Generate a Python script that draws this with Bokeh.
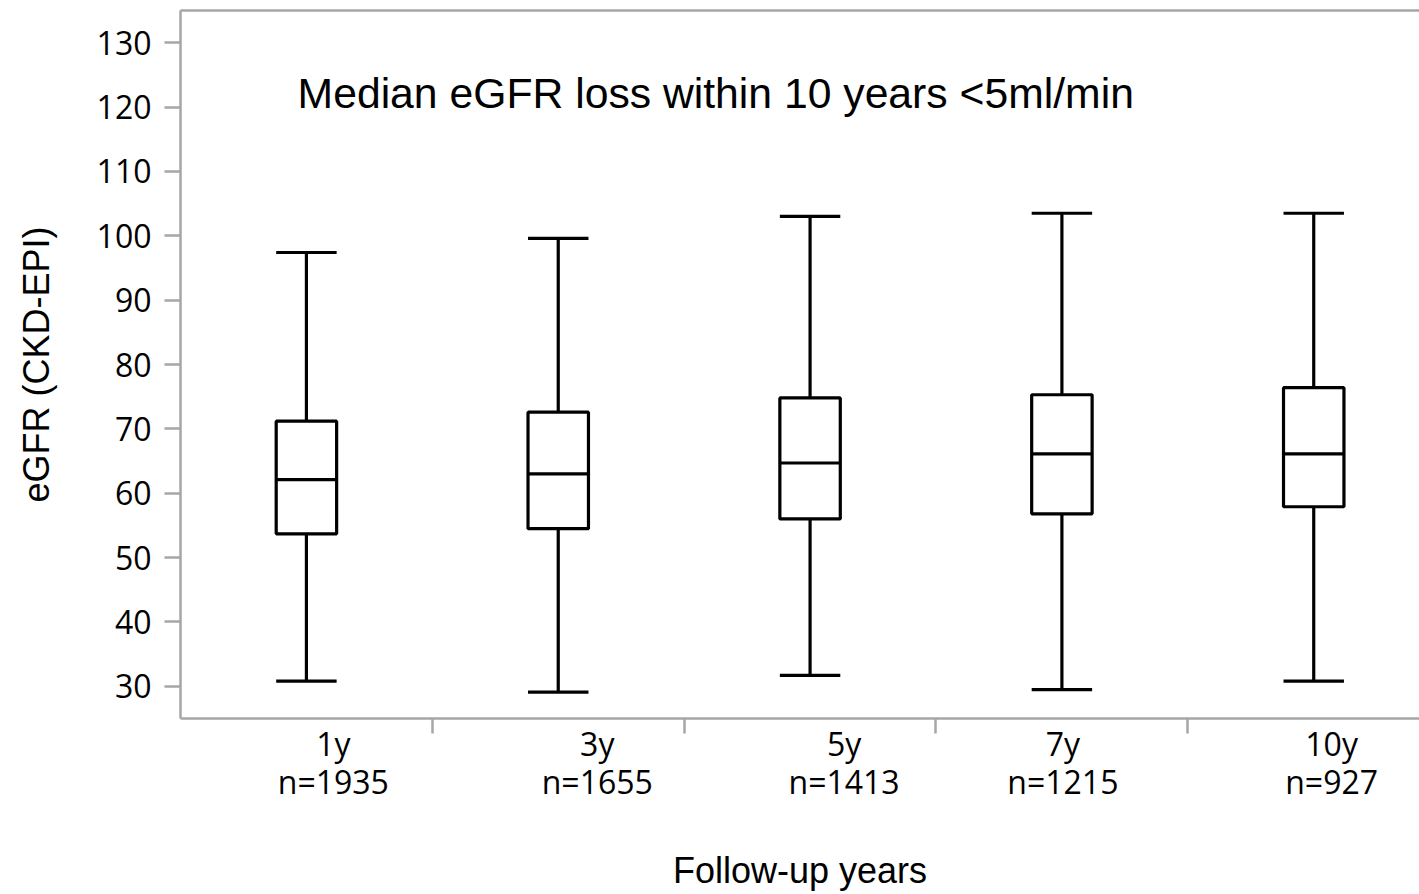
import numpy as np
from bokeh.plotting import figure
from bokeh.models import FixedTicker, LinearAxis, Label, Range1d
from bokeh.embed import file_html
from bokeh.resources import INLINE

# ---- data ----
categories = ["1y", "3y", "5y", "7y", "10y"]
n_counts = [1935, 1655, 1413, 1215, 927]
whisker_low = [30.8, 29.1, 31.7, 29.5, 30.8]
q1 = [53.7, 54.5, 56.0, 56.8, 57.9]
median = [62.1, 63.0, 64.7, 66.1, 66.1]
q3 = [71.2, 72.6, 74.8, 75.3, 76.4]
whisker_high = [97.4, 99.6, 103.0, 103.5, 103.5]
y_ticks = [30, 40, 50, 60, 70, 80, 90, 100, 110, 120, 130]
title_text = "Median eGFR loss within 10 years <5ml/min"

# ---- style ----
label_offsets = [0.107, 0.155, 0.135, 0.004, 0.071]  # tick label shift (category units)
box_w = 0.24
AX = "#A6A6A6"
TICK_FONT = "Open Sans"

x = np.arange(len(categories)) + 0.5
lo = np.array(whisker_low)
hi = np.array(whisker_high)
b1 = np.array(q1)
b3 = np.array(q3)
md = np.array(median)

p = figure(width=1419, height=894, output_backend="svg", toolbar_location=None,
           x_range=Range1d(0, 4.92), y_range=Range1d(25, 135),
           min_border_left=180, min_border_bottom=176, min_border_top=10,
           min_border_right=0, x_axis_location=None, y_axis_location=None)
p.outline_line_color = None
p.xgrid.visible = False
p.ygrid.visible = False
p.background_fill_color = "white"
p.border_fill_color = "white"

# y axis
yax = LinearAxis(ticker=FixedTicker(ticks=y_ticks), axis_label="eGFR (CKD-EPI)")
yax.axis_line_color = AX
yax.axis_line_width = 2.5
yax.major_tick_line_color = AX
yax.major_tick_line_width = 2.5
yax.major_tick_out = 16
yax.major_tick_in = 0
yax.minor_tick_line_color = None
yax.major_label_text_font = TICK_FONT
yax.major_label_text_font_size = "32px"
yax.major_label_text_color = "black"
yax.major_label_standoff = 13
yax.axis_label_text_font = "Liberation Sans"
yax.axis_label_text_font_size = "36px"
yax.axis_label_text_font_style = "normal"
yax.axis_label_text_color = "black"
yax.axis_label_standoff = 37
p.add_layout(yax, "left")

# x axis
label_pos = [float(v) for v in (x + np.array(label_offsets))]
xax = LinearAxis(ticker=FixedTicker(ticks=label_pos,
                                    minor_ticks=[1.0, 2.0, 3.0, 4.0]),
                 axis_label="Follow-up years")
xax.major_label_overrides = {lp: f"{c}\nn={n}" for lp, c, n in zip(label_pos, categories, n_counts)}
xax.axis_line_color = AX
xax.axis_line_width = 2.5
xax.major_tick_line_color = None
xax.major_tick_out = 0
xax.major_tick_in = 0
xax.minor_tick_line_color = AX
xax.minor_tick_line_width = 2.5
xax.minor_tick_out = 15
xax.minor_tick_in = 0
xax.major_label_text_font = TICK_FONT
xax.major_label_text_font_size = "32px"
xax.major_label_text_line_height = 0.9
xax.major_label_text_color = "black"
xax.major_label_standoff = -12
xax.axis_label_text_font = "Liberation Sans"
xax.axis_label_text_font_size = "36px"
xax.axis_label_text_font_style = "normal"
xax.axis_label_text_color = "black"
xax.axis_label_standoff = 44
p.add_layout(xax, "below")

# top border
top = LinearAxis(ticker=FixedTicker(ticks=[]))
top.axis_line_color = AX
top.axis_line_width = 2.5
top.major_tick_line_color = None
top.minor_tick_line_color = None
top.major_label_text_font_size = "0px"
p.add_layout(top, "above")

# boxes
LW = 3.2
p.segment(x0=x, y0=b3, x1=x, y1=hi, line_color="black", line_width=LW)
p.segment(x0=x, y0=b1, x1=x, y1=lo, line_color="black", line_width=LW)
p.segment(x0=x - box_w / 2, y0=hi, x1=x + box_w / 2, y1=hi, line_color="black", line_width=LW)
p.segment(x0=x - box_w / 2, y0=lo, x1=x + box_w / 2, y1=lo, line_color="black", line_width=LW)
p.vbar(x=x, width=box_w, bottom=b1, top=b3, fill_color="white", line_color="black", line_width=LW)
p.segment(x0=x - box_w / 2, y0=md, x1=x + box_w / 2, y1=md, line_color="black", line_width=LW)

p.add_layout(Label(x=0.465, y=122.2, text=title_text, text_font="Liberation Sans",
                   text_font_size="42.7px", text_color="black", text_baseline="middle"))

open("out.html", "w").write(file_html(p, INLINE))
